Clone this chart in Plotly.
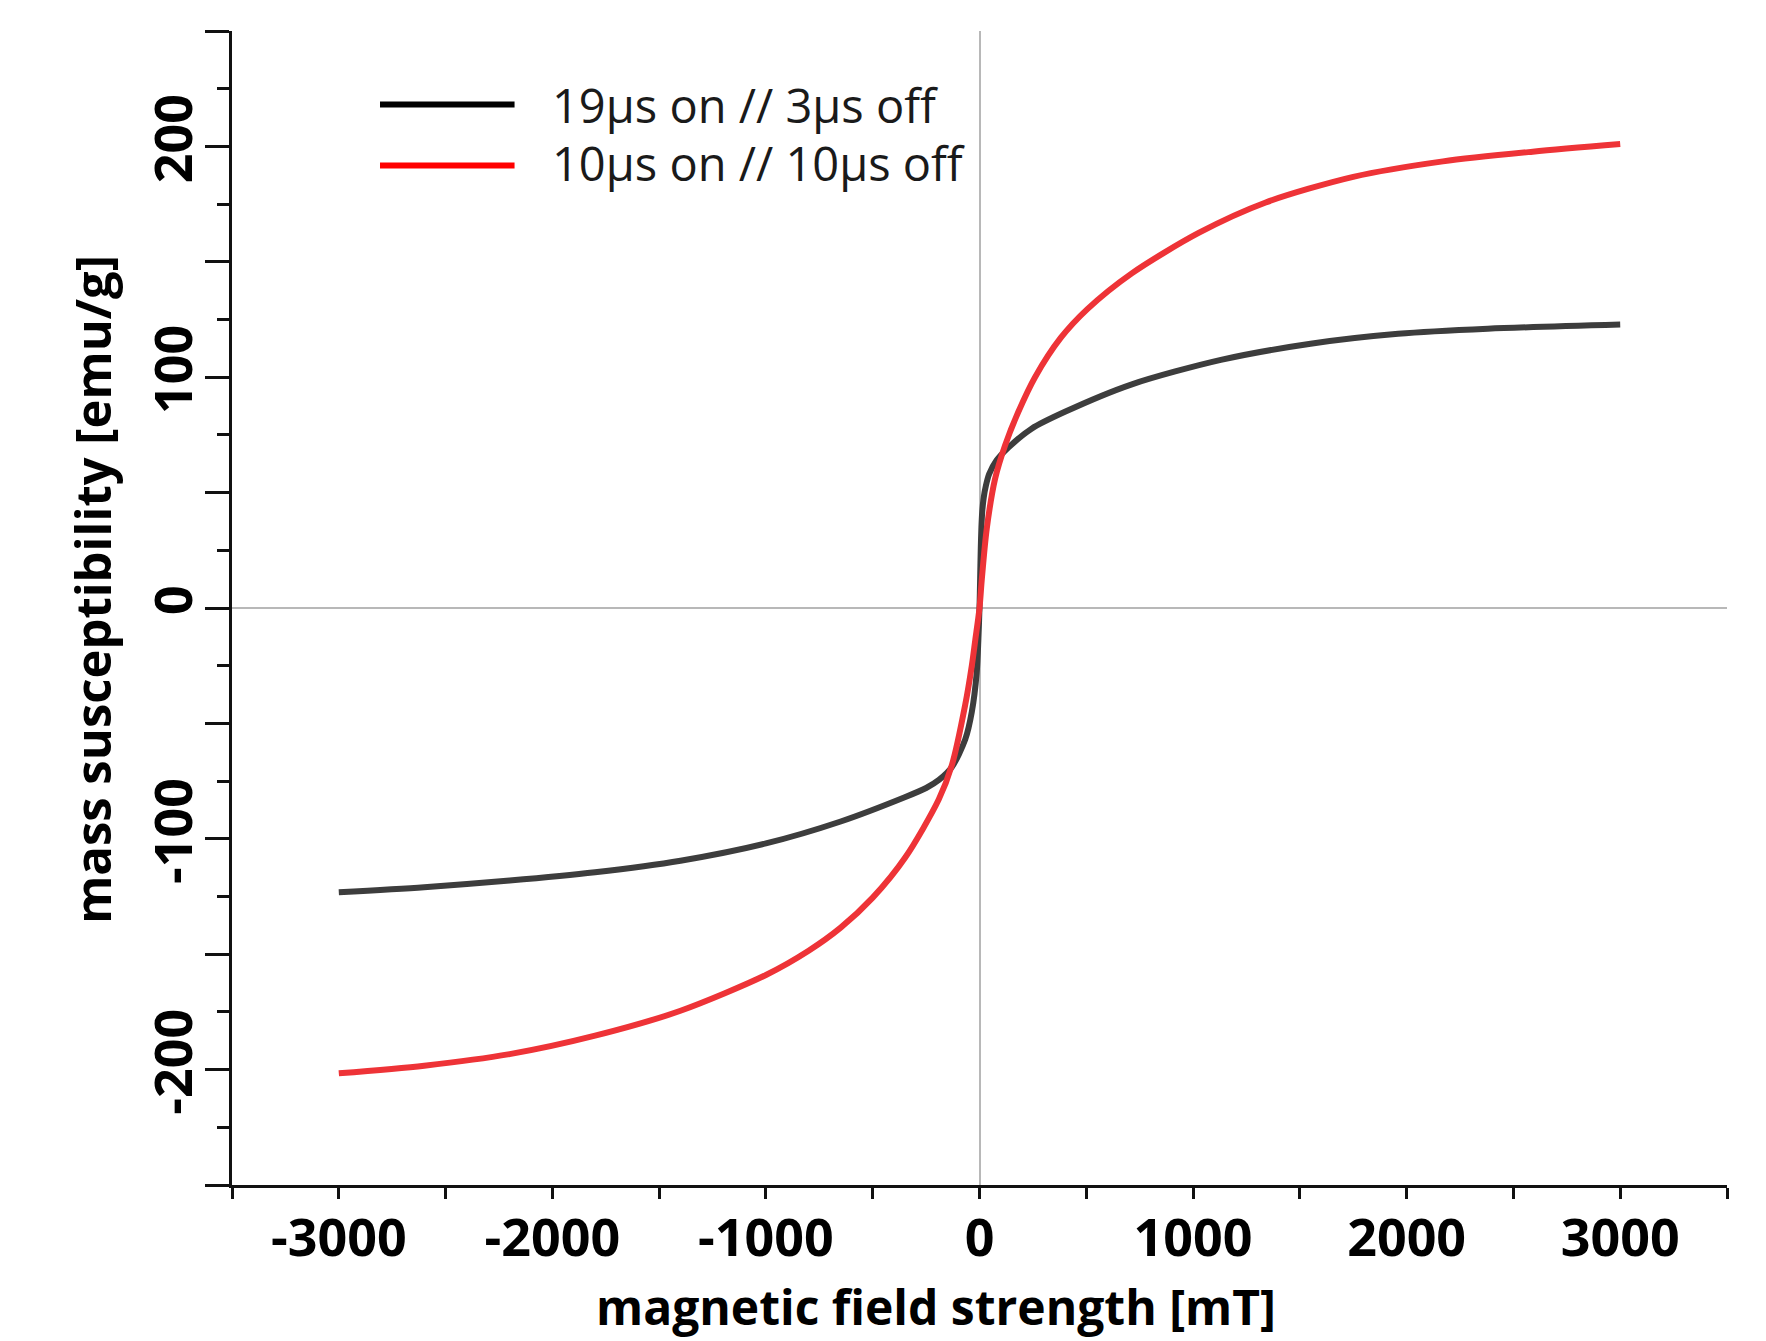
import plotly.graph_objects as go

# ---- data ----
series_names = ["19µs on // 3µs off", "10µs on // 10µs off"]

field_black = [-3000, -2600, -2200, -1800, -1400, -1000, -650, -350, -250, -190, -130, -67, -36, -13, -5, 0,
               3, 6, 9, 13, 20, 30, 45, 80, 135, 244, 400, 710, 1130, 1550, 1960, 2380, 3000]
chi_black = [-123.2, -121.0, -118.1, -114.5, -109.5, -102.0, -92.5, -82.0, -78.0, -74.5, -69.0, -57.0, -45.0, -28.0, -13.0, 0.0,
             13.0, 26.0, 35.0, 42.0, 48.0, 53.0, 58.0, 64.0, 69.5, 77.7, 85.0, 96.8, 107.5, 114.5, 118.8, 121.0, 122.8]

field_red = [-3000, -2600, -2200, -1800, -1400, -1000, -800, -650, -500, -347, -191, -129, -67, -36, -20, 0,
             11, 34, 73, 120, 182, 260, 380, 505, 713, 1026, 1340, 1750, 2170, 2590, 3000]
chi_red = [-201.6, -198.3, -193.3, -185.3, -174.5, -159.0, -148.5, -138.5, -125.5, -108.0, -83.0, -68.0, -42.0, -25.0, -14.0, 0.0,
           12.7, 34.4, 56.0, 70.5, 85.0, 100.0, 117.0, 129.5, 145.0, 162.5, 175.7, 186.8, 193.5, 197.7, 201.0]

x_tickvals = [-3500, -3000, -2500, -2000, -1500, -1000, -500, 0, 500, 1000, 1500, 2000, 2500, 3000, 3500]
x_ticktext = ["", "-3000", "", "-2000", "", "-1000", "", "0", "", "1000", "", "2000", "", "3000", ""]
y_tickvals = [-250, -200, -150, -100, -50, 0, 50, 100, 150, 200, 250]
y_ticktext = ["", "-200", "", "-100", "", "0", "", "100", "", "200", ""]

x_title = "magnetic field strength [mT]"
y_title = "mass susceptibility [emu/g]"

curve_colors = ["#3d3d3d", "#ee3337"]
legend_colors = ["#000000", "#ff0000"]

FONT = "Open Sans, Noto Sans, DejaVu Sans, sans-serif"

fig = go.Figure()
for name, xs, ys, col in [(series_names[0], field_black, chi_black, curve_colors[0]),
                          (series_names[1], field_red, chi_red, curve_colors[1])]:
    fig.add_trace(go.Scatter(x=xs, y=ys, mode="lines", name=name,
                             line=dict(color=col, width=6, shape="spline", smoothing=0.8),
                             showlegend=False))

# manual legend (long line samples like the reference)
leg_y = [0.9363, 0.8834]
for i, name in enumerate(series_names):
    fig.add_shape(type="line", xref="paper", yref="paper",
                  x0=0.099, x1=0.189, y0=leg_y[i], y1=leg_y[i],
                  line=dict(color=legend_colors[i], width=6))
    fig.add_annotation(xref="paper", yref="paper", x=0.2125, y=leg_y[i] + (0.0 if i == 0 else 0.002),
                       xanchor="left", yanchor="middle", showarrow=False, text=name,
                       font=dict(family=FONT, size=47, color="#1a1a1a"))

# axis titles (placed as in the reference)
fig.add_annotation(xref="paper", yref="paper", x=0.471, y=-0.105, xanchor="center", yanchor="middle",
                   showarrow=False, text=x_title,
                   font=dict(family=FONT, size=48, color="#000", weight="bold"))
fig.add_annotation(xref="paper", yref="paper", x=-0.0936, y=0.5158, xanchor="center", yanchor="middle",
                   showarrow=False, text=y_title, textangle=-90,
                   font=dict(family=FONT, size=49, color="#000", weight="bold"))

fig.update_xaxes(
    range=[-3500, 3500], tickmode="array", tickvals=x_tickvals, ticktext=x_ticktext,
    ticks="outside", ticklen=11, tickwidth=2.5, tickcolor="#111",
    showline=True, linewidth=3, linecolor="#111", mirror=False, showgrid=False,
    zeroline=True, zerolinecolor="#b8b8b8", zerolinewidth=1.5,
    tickfont=dict(family=FONT, size=52, color="#000", weight="bold"),
    ticklabelstandoff=-5,
)
fig.update_yaxes(
    range=[-250, 250], tickmode="array", tickvals=y_tickvals, ticktext=y_ticktext,
    ticks="outside", ticklen=24, tickwidth=2.5, tickcolor="#111",
    minor=dict(tickmode="linear", tick0=0, dtick=25, ticks="outside", ticklen=12, tickwidth=2.5, tickcolor="#111"),
    showline=True, linewidth=3, linecolor="#111", mirror=False, showgrid=False,
    zeroline=True, zerolinecolor="#b8b8b8", zerolinewidth=1.5,
    tickangle=-90,
    tickfont=dict(family=FONT, size=52, color="#000", weight="bold"),
    ticklabelstandoff=-8,
)

fig.update_layout(
    width=1766, height=1341,
    margin=dict(l=232, r=39, t=31, b=156),
    paper_bgcolor="white", plot_bgcolor="white",
    showlegend=False,
)

fig.write_html("out.html", config={"displayModeBar": False},
               post_script="document.body.style.margin='0';")
